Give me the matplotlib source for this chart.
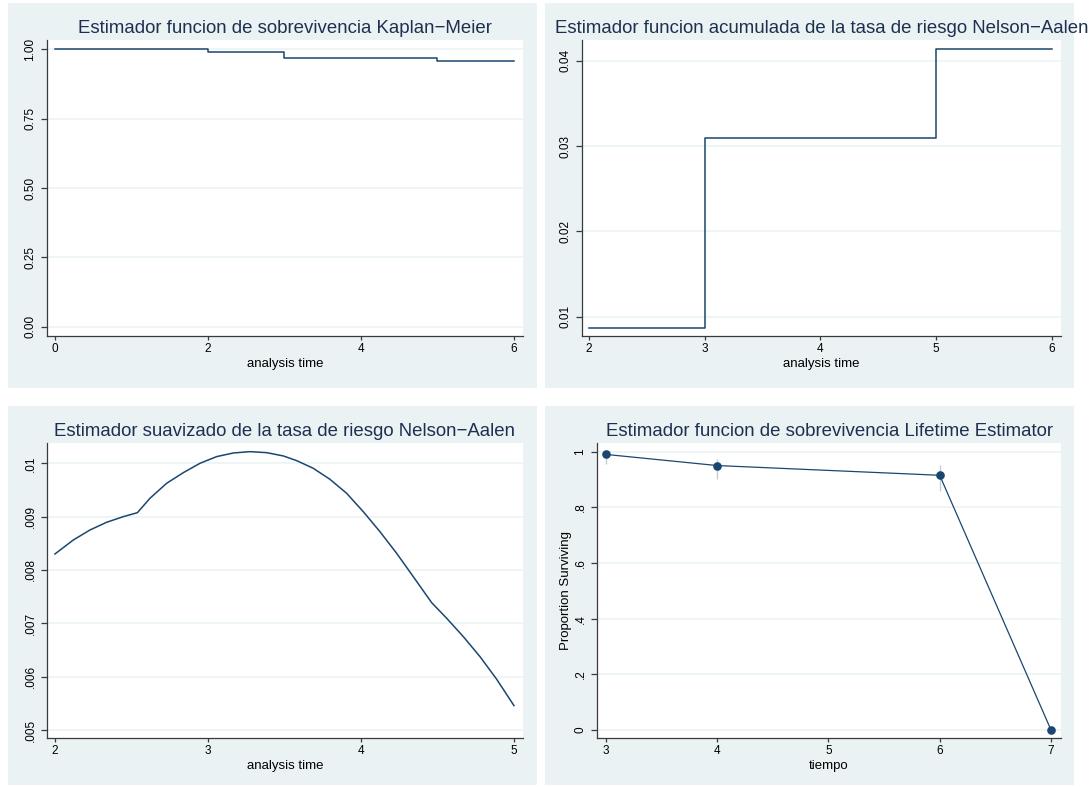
import matplotlib
matplotlib.use("Agg")
import matplotlib.pyplot as plt
from matplotlib.patches import Rectangle

# ---- data -------------------------------------------------------------
km_time = [0, 2, 3, 5, 6]
km_surv = [1.0, 0.9913, 0.9696, 0.9596, 0.9596]

na_time = [2, 3, 5, 6]
na_cumhaz = [0.0087, 0.0310, 0.0414, 0.0414]

smooth_time = [2.000, 2.120, 2.229, 2.338, 2.447, 2.539, 2.621, 2.730, 2.839,
               2.948, 3.057, 3.166, 3.275, 3.384, 3.493, 3.580, 3.688, 3.797,
               3.906, 4.015, 4.124, 4.233, 4.342, 4.462, 4.560, 4.669, 4.778,
               4.887, 5.000]
smooth_haz = [0.00830, 0.008562, 0.008750, 0.008894, 0.009000, 0.009074,
              0.009344, 0.009625, 0.009824, 0.010000, 0.010125, 0.010193,
              0.010218, 0.010199, 0.010137, 0.010049, 0.009906, 0.009700,
              0.009438, 0.009093, 0.008718, 0.008313, 0.007874, 0.007387,
              0.007095, 0.006750, 0.006375, 0.005951, 0.005457]

lt_time = [3, 4, 6, 7]
lt_surv = [0.990, 0.950, 0.915, 0.0]
lt_lower = [0.954, 0.9025, 0.860, 0.0]
lt_upper = [0.998, 0.975, 0.951, 0.0]

km_xticks = [0, 2, 4, 6]
km_yticks = [0.0, 0.25, 0.5, 0.75, 1.0]
km_ylabels = ["0.00", "0.25", "0.50", "0.75", "1.00"]
na_xticks = [2, 3, 4, 5, 6]
na_yticks = [0.01, 0.02, 0.03, 0.04]
na_ylabels = ["0.01", "0.02", "0.03", "0.04"]
sm_xticks = [2, 3, 4, 5]
sm_yticks = [0.005, 0.006, 0.007, 0.008, 0.009, 0.010]
sm_ylabels = [".005", ".006", ".007", ".008", ".009", ".01"]
lt_xticks = [3, 4, 5, 6, 7]
lt_yticks = [0, 0.2, 0.4, 0.6, 0.8, 1.0]
lt_ylabels = ["0", ".2", ".4", ".6", ".8", "1"]

titles = [
    "Estimador funcion de sobrevivencia Kaplan\u2212Meier",
    "Estimador funcion acumulada de la tasa de riesgo Nelson\u2212Aalen",
    "Estimador suavizado de la tasa de riesgo Nelson\u2212Aalen",
    "Estimador funcion de sobrevivencia Lifetime Estimator",
]

# ---- style --------------------------------------------------------------
W, H = 1090, 787
REGION = "#EAF2F3"
GRID = "#EAF2F3"
NAVY = "#1A476F"
TITLE_C = "#1E3050"
AXIS_C = "#3A3A3A"

plt.rcParams["font.family"] = ["Liberation Sans", "DejaVu Sans"]

fig = plt.figure(figsize=(W / 100, H / 100), dpi=100, facecolor="white")


def px_rect(x0, y0, x1, y1):
    return [x0 / W, 1 - y1 / H, (x1 - x0) / W, (y1 - y0) / H]


# graph regions
for (x0, y0, x1, y1) in [(8, 3, 537, 388), (545, 3, 1074, 388),
                         (8, 406, 537, 785), (545, 406, 1074, 785)]:
    fig.patches.append(Rectangle((x0 / W, 1 - y1 / H), (x1 - x0) / W,
                                 (y1 - y0) / H, transform=fig.transFigure,
                                 facecolor=REGION, edgecolor="none", zorder=-5))

boxes = [(47, 40, 523, 336), (582, 40, 1061, 336),
         (47, 443, 523, 738), (597, 443, 1061, 738)]
axes = [fig.add_axes(px_rect(*b)) for b in boxes]


def style(ax, xticks, yticks, ylabels, xlim, ylim):
    ax.set_facecolor("white")
    ax.set_xlim(*xlim)
    ax.set_ylim(*ylim)
    ax.set_xticks(xticks)
    ax.set_xticklabels([str(t) for t in xticks])
    ax.set_yticks(yticks)
    ax.set_yticklabels(ylabels, rotation=90, va="center")
    for s in ("top", "right"):
        ax.spines[s].set_visible(False)
    for s in ("left", "bottom"):
        ax.spines[s].set_color(AXIS_C)
        ax.spines[s].set_linewidth(0.9)
    ax.tick_params(axis="x", length=3.2, width=0.9, color=AXIS_C, pad=2,
                   labelsize=8.5, labelcolor="black")
    ax.tick_params(axis="y", length=4.0, width=0.9, color=AXIS_C, pad=3.6,
                   labelsize=8.5, labelcolor="black")
    ax.yaxis.grid(True, color=GRID, linewidth=1.1)
    ax.xaxis.grid(False)
    ax.set_axisbelow(True)


# Kaplan-Meier survival
ax = axes[0]
style(ax, km_xticks, km_yticks, km_ylabels, (-0.103, 6.118), (-0.0335, 1.0335))
ax.plot(km_time, km_surv, drawstyle="steps-post", color=NAVY, lw=1.1)

# Nelson-Aalen cumulative hazard
ax = axes[1]
style(ax, na_xticks, na_yticks, na_ylabels, (1.94, 6.078), (0.00774, 0.04243))
ax.plot(na_time, na_cumhaz, drawstyle="steps-post", color=NAVY, lw=1.1)

# smoothed hazard
ax = axes[2]
style(ax, sm_xticks, sm_yticks, sm_ylabels, (1.948, 5.059), (0.00485, 0.01038))
ax.plot(smooth_time, smooth_haz, color=NAVY, lw=1.1)

# life-table survival
ax = axes[3]
style(ax, lt_xticks, lt_yticks, lt_ylabels, (2.921, 7.09), (-0.029, 1.031))
ax.vlines(lt_time[:3], lt_lower[:3], lt_upper[:3], color="#C9CCCE", lw=1.0,
          zorder=2)
ax.plot(lt_time, lt_surv, color=NAVY, lw=0.9, marker="o", ms=5.2,
        markerfacecolor=NAVY, markeredgecolor=NAVY, zorder=3)

# titles and axis titles
title_base = [33, 33, 436.5, 436.5]
for b, t, yb in zip(boxes, titles, title_base):
    cx = (b[0] + b[2]) / 2
    fig.text(cx / W, 1 - yb / H, t, ha="center", va="baseline",
             fontsize=13.4, color=TITLE_C)

xlab = ["analysis time", "analysis time", "analysis time", "tiempo"]
xlab_base = [367, 367, 769.5, 769.5]
for b, t, yb in zip(boxes, xlab, xlab_base):
    cx = (b[0] + b[2]) / 2
    fig.text(cx / W, 1 - yb / H, t, ha="center", va="baseline",
             fontsize=9.5, color="black")

fig.text(566.5 / W, 1 - 590.5 / H, "Proportion Surviving", rotation=90,
         ha="center", va="center", fontsize=9.5, color="black")

fig.savefig("out.png", dpi=100, facecolor="white")
